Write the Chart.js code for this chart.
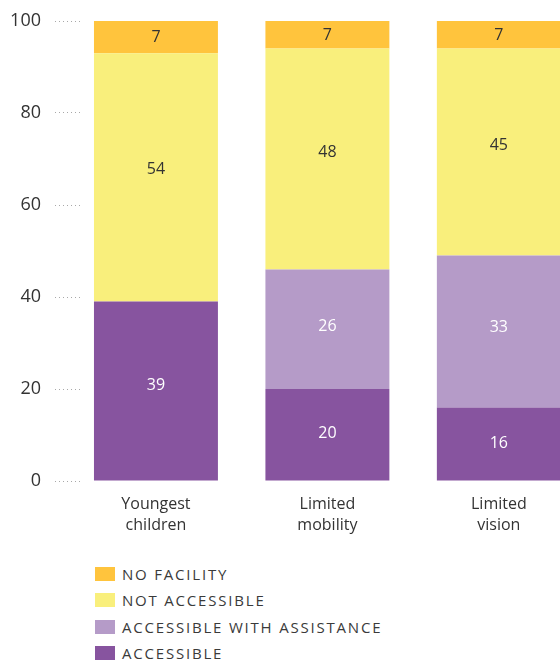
<!DOCTYPE html>
<html>
<head>
<meta charset="utf-8">
<script src="https://cdn.jsdelivr.net/npm/chart.js@4"></script>
<style>
  html, body { margin: 0; padding: 0; background: #fff; overflow: hidden; }
  #wrap { position: relative; width: 560px; height: 664px; overflow: hidden; }
  #chart { position: absolute; left: 0; top: 0; }
  #legend { position: absolute; left: 95px; top: 561px; font-family: "Open Sans", sans-serif;
            font-size: 15px; letter-spacing: 1.8px; color: #3a3a3a; }
  .item { display: flex; align-items: center; height: 26.3px; }
  .box { width: 20px; height: 14px; margin-right: 7px; }
</style>
</head>
<body>
<div id="wrap">
  <canvas id="chart" width="600" height="545"></canvas>
  <div id="legend"></div>
</div>
<script>
var groups = [['Youngest', 'children'], ['Limited', 'mobility'], ['Limited', 'vision']];

var accessible = [39, 20, 16];
var withAssistance = [0, 26, 33];
var notAccessible = [54, 48, 45];
var noFacility = [7, 7, 7];

var yTicks = [0, 20, 40, 60, 80, 100];

var colors = {
  accessible: '#87549f',
  assisted: '#b59bc8',
  notAccessible: '#f9ef7c',
  noFacility: '#ffc43d'
};

function points(values) {
  return values.map(function (v, i) { return {x: i, y: v}; });
}

var datasets = [
  {label: 'ACCESSIBLE', data: points(accessible), backgroundColor: colors.accessible, textColor: '#ffffff'},
  {label: 'ACCESSIBLE WITH ASSISTANCE', data: points(withAssistance), backgroundColor: colors.assisted, textColor: '#ffffff'},
  {label: 'NOT ACCESSIBLE', data: points(notAccessible), backgroundColor: colors.notAccessible, textColor: '#333333'},
  {label: 'NO FACILITY', data: points(noFacility), backgroundColor: colors.noFacility, textColor: '#333333'}
];

// writes the value inside every segment, a little above its middle
var segmentLabels = {
  id: 'segmentLabels',
  afterDatasetsDraw: function (chart) {
    var ctx = chart.ctx;
    var area = chart.chartArea;
    ctx.save();
    ctx.font = '16px "Open Sans", sans-serif';
    ctx.textAlign = 'center';
    ctx.textBaseline = 'middle';
    chart.data.datasets.forEach(function (ds, di) {
      var meta = chart.getDatasetMeta(di);
      meta.data.forEach(function (bar, i) {
        var v = ds.data[i].y;
        if (!v) return;
        var p = bar.getProps(['x', 'y', 'base'], true);
        var top = Math.max(p.y, area.top);
        var h = p.base - top;
        ctx.fillStyle = ds.textColor;
        ctx.fillText(String(v), p.x, (top + p.base) / 2 - 0.04 * h + 2);
      });
    });
    ctx.restore();
  }
};

var chart = new Chart(document.getElementById('chart'), {
  type: 'bar',
  data: {datasets: datasets},
  options: {
    responsive: false,
    animation: false,
    devicePixelRatio: 1,
    categoryPercentage: 1,
    barPercentage: 0.723,
    layout: {padding: {top: 21, right: 0, bottom: 0, left: 0}},
    plugins: {
      legend: {display: false},
      tooltip: {enabled: false}
    },
    scales: {
      x: {
        type: 'linear',
        stacked: true,
        offset: false,
        min: -0.443,
        max: 2.59,
        grid: {display: false},
        border: {display: false},
        ticks: {
          stepSize: 1,
          includeBounds: false,
          autoSkip: false,
          maxRotation: 0,
          padding: 5,
          color: '#333333',
          font: {family: '"Open Sans", sans-serif', size: 16, lineHeight: 1.3},
          callback: function (value) { return groups[value] || ''; }
        },
        afterFit: function (scale) {
          scale.height = 64;
          scale.paddingLeft = 0;
          scale.paddingRight = 0;
        }
      },
      y: {
        stacked: true,
        min: 0,
        max: 100,
        grid: {
          drawOnChartArea: false,
          tickLength: 25,
          tickColor: '#a8a8a8',
          tickBorderDash: [1, 3]
        },
        border: {display: false},
        afterBuildTicks: function (scale) {
          scale.ticks = yTicks.map(function (v) { return {value: v}; });
        },
        ticks: {
          padding: 14,
          color: '#333333',
          font: {family: '"Open Sans", sans-serif', size: 18}
        },
        afterFit: function (scale) {
          scale.width = 80;
          scale.paddingTop = 0;
          scale.paddingBottom = 0;
        }
      }
    }
  },
  plugins: [segmentLabels]
});

// legend, top series first
var legend = document.getElementById('legend');
datasets.slice().reverse().forEach(function (ds) {
  var row = document.createElement('div');
  row.className = 'item';
  var box = document.createElement('span');
  box.className = 'box';
  box.style.background = ds.backgroundColor;
  var txt = document.createElement('span');
  txt.textContent = ds.label;
  row.appendChild(box);
  row.appendChild(txt);
  legend.appendChild(row);
});
</script>
</body>
</html>
